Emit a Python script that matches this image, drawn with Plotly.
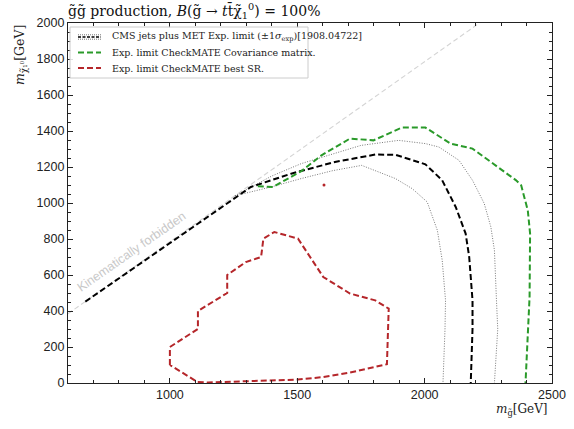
import plotly.graph_objects as go

# ---- data ----
cms_x = [668, 1127, 1318, 1476, 1648, 1806, 1885, 2003, 2069, 2122, 2161, 2175, 2188, 2188, 2181]
cms_y = [452, 904, 1089, 1163, 1228, 1269, 1268, 1215, 1126, 978, 830, 700, 459, 300, 0]

cms_up_x = [1255, 1400, 1516, 1582, 1750, 1898, 2003, 2056, 2135, 2188, 2234, 2260, 2274, 2282, 2287, 2274]
cms_up_y = [1040, 1150, 1219, 1247, 1320, 1348, 1330, 1311, 1237, 1126, 997, 867, 737, 459, 300, 0]

cms_dn_x = [1255, 1292, 1400, 1516, 1640, 1753, 1885, 1951, 2010, 2050, 2069, 2082, 2080, 2072]
cms_dn_y = [1040, 1052, 1090, 1136, 1180, 1209, 1136, 1080, 1006, 848, 682, 459, 300, 0]

cov_x = [1345, 1404, 1516, 1595, 1707, 1799, 1911, 2003, 2102, 2188, 2359, 2379, 2405, 2414, 2412, 2405, 2396]
cov_y = [1093, 1089, 1177, 1265, 1358, 1348, 1419, 1419, 1330, 1302, 1126, 1098, 959, 830, 478, 300, 0]

best_x = [1000, 1000, 1110, 1110, 1225, 1225, 1298, 1358, 1367, 1410, 1503, 1602, 1707, 1806, 1859,
          1852, 1700, 1602, 1503, 1300, 1150, 1108, 1000]
best_y = [100, 200, 300, 400, 500, 600, 672, 700, 802, 839, 802, 589, 497, 459, 413,
          104, 56, 33, 19, 8, 3, 6, 100]
best_dot_x = [1605]
best_dot_y = [1100]

diag_x = [600, 2500]
diag_y = [385, 2285]

x_range = [600, 2500]
y_range = [0, 2000]
x_ticks = [1000, 1500, 2000, 2500]
y_ticks = [0, 200, 400, 600, 800, 1000, 1200, 1400, 1600, 1800, 2000]

legend_labels = [
    "CMS jets plus MET Exp. limit (±1<i>σ</i><sub>exp</sub>)[1908.04722]",
    "Exp. limit CheckMATE Covariance matrix.",
    "Exp. limit CheckMATE best SR.",
]

BLACK = "#000000"
GREEN = "#2a9a2a"
RED = "#b5262a"
DOT = "#555555"

fig = go.Figure()
fig.add_trace(go.Scatter(x=diag_x, y=diag_y, mode="lines",
                         line=dict(color="#d4d4d4", width=1.1, dash="5px,3px"), showlegend=False))
fig.add_trace(go.Scatter(x=cms_up_x, y=cms_up_y, mode="lines",
                         line=dict(color=DOT, width=0.8, dash="1px,1.5px"), showlegend=False))
fig.add_trace(go.Scatter(x=cms_dn_x, y=cms_dn_y, mode="lines",
                         line=dict(color=DOT, width=0.8, dash="1px,1.5px"), showlegend=False))
fig.add_trace(go.Scatter(x=cms_x, y=cms_y, mode="lines",
                         line=dict(color=BLACK, width=2, dash="6px,3px"), showlegend=False))
fig.add_trace(go.Scatter(x=cov_x, y=cov_y, mode="lines",
                         line=dict(color=GREEN, width=2, dash="6px,3px"), showlegend=False))
fig.add_trace(go.Scatter(x=best_x, y=best_y, mode="lines",
                         line=dict(color=RED, width=2, dash="6px,3px"), showlegend=False))
fig.add_trace(go.Scatter(x=best_dot_x, y=best_dot_y, mode="markers",
                         marker=dict(color=RED, size=3), showlegend=False))

W, H = 574, 429
L, R, T, B = 68, 22, 23, 46
pw, ph = W - L - R, H - T - B

def px2paper(px, py):
    return (px - L) / pw, (H - B - py) / ph

# manual legend
shapes = []
annotations = []
x0, y0 = px2paper(70, 27)
x1, y1 = px2paper(308, 78)
shapes.append(dict(type="rect", xref="paper", yref="paper", x0=x0, y0=y1, x1=x1, y1=y0,
                   line=dict(color="#cccccc", width=1), fillcolor="rgba(255,255,255,0.85)", layer="above"))
rows = [37, 52.5, 68]
handles = [
    [(BLACK, 1.6, "3px,1.5px", 0), (DOT, 0.8, "1px,1px", -2.2), (DOT, 0.8, "1px,1px", 2.2)],
    [(GREEN, 2, "6px,3px", 0)],
    [(RED, 2, "6px,3px", 0)],
]
for ry, hs, lab in zip(rows, handles, legend_labels):
    for col, wd, ds, off in hs:
        hx0, hy = px2paper(78, ry + off)
        hx1, _ = px2paper(101, ry + off)
        shapes.append(dict(type="line", xref="paper", yref="paper", x0=hx0, x1=hx1, y0=hy, y1=hy,
                           line=dict(color=col, width=wd, dash=ds), layer="above"))
    tx, ty = px2paper(110, ry)
    annotations.append(dict(xref="paper", yref="paper", x=tx, y=ty, text=lab, showarrow=False,
                            xanchor="left", yanchor="middle",
                            font=dict(family="DejaVu Serif", size=9.5, color="#222")))

# title
tx, ty = px2paper(66, 11)
annotations.append(dict(xref="paper", yref="paper", x=tx, y=ty,
                        text="g̃g̃ production, <i>B</i>(g̃ → <i>t</i>t̄χ̃<sub>1</sub><sup>0</sup>) = 100%",
                        showarrow=False, xanchor="left", yanchor="middle",
                        font=dict(family="DejaVu Serif", size=14, color="#111")))
# y label
tx, ty = px2paper(20, 23)
annotations.append(dict(xref="paper", yref="paper", x=tx, y=ty,
                        text="<i>m</i><sub>χ̃₁⁰</sub>[GeV]", textangle=-90,
                        showarrow=False, xanchor="center", yanchor="top",
                        font=dict(family="DejaVu Serif", size=12.5, color="#222")))
# x label
tx, ty = px2paper(549, 410)
annotations.append(dict(xref="paper", yref="paper", x=tx, y=ty,
                        text="<i>m</i><sub>g̃</sub>[GeV]",
                        showarrow=False, xanchor="right", yanchor="middle",
                        font=dict(family="DejaVu Serif", size=12, color="#222")))
# kinematically forbidden
annotations.append(dict(x=848, y=728, xref="x", yref="y", text="Kinematically forbidden",
                        textangle=-35, showarrow=False,
                        font=dict(family="Liberation Sans", size=12.5, color="#c8c8c8")))

axis_common = dict(showgrid=False, zeroline=False, showline=True, linecolor="#222", linewidth=1.2,
                   mirror="allticks", ticks="inside", ticklen=5, tickwidth=1, tickcolor="#222",
                   automargin=False,
                   tickfont=dict(family="Liberation Sans", size=12.5, color="#222"))

fig.update_layout(
    width=W, height=H,
    margin=dict(l=L, r=R, t=T, b=B),
    plot_bgcolor="white", paper_bgcolor="white",
    showlegend=False,
    xaxis=dict(range=x_range, tickvals=x_ticks,
               minor=dict(dtick=100, ticks="inside", ticklen=3, tickcolor="#222", showgrid=False),
               **axis_common),
    yaxis=dict(range=y_range, tickvals=y_ticks,
               minor=dict(dtick=50, ticks="inside", ticklen=3, tickcolor="#222", showgrid=False),
               **axis_common),
    shapes=shapes, annotations=annotations,
)

fig.write_html("out.html", config={"displayModeBar": False},
               post_script="document.body.style.margin='0';document.body.style.overflow='hidden';")
